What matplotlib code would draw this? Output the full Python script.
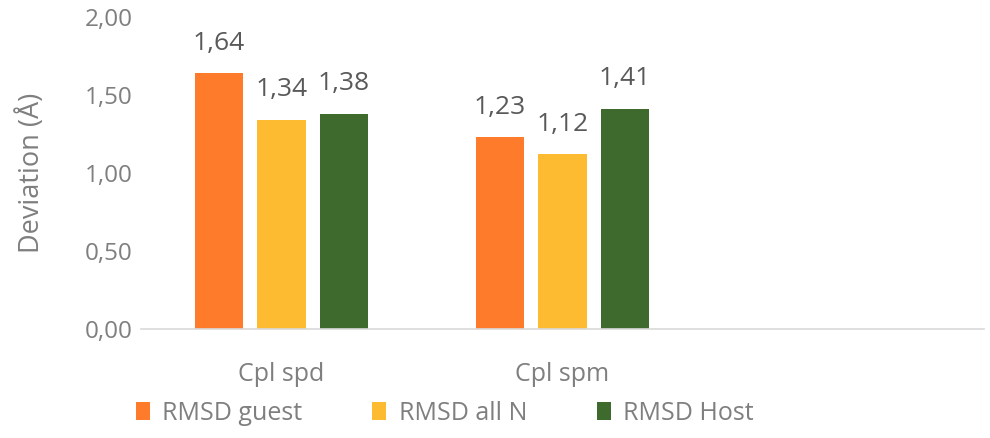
import matplotlib
matplotlib.use("Agg")
import matplotlib.pyplot as plt
from matplotlib.patches import Patch
import numpy as np

plt.rcParams['font.family'] = ['Open Sans', 'DejaVu Sans']

categories = ["Cpl spd", "Cpl spm", ""]
series_names = ["RMSD guest", "RMSD all N", "RMSD Host"]
rmsd_guest = [1.64, 1.23, np.nan]
rmsd_all_n = [1.34, 1.12, np.nan]
rmsd_host = [1.38, 1.41, np.nan]
yticks = [0.0, 0.5, 1.0, 1.5, 2.0]
colors = ["#FE7B2C", "#FDBB32", "#3E6A2E"]

fig = plt.figure(figsize=(9.9, 4.38), dpi=100)
ax = fig.add_axes([141/990, 1-329/438, 843/990, 312/438])

x = np.arange(len(categories))
width = 0.172
offsets = [-0.222, 0.0, 0.222]
for vals, off, c, name in zip([rmsd_guest, rmsd_all_n, rmsd_host], offsets, colors, series_names):
    ax.bar(x + off, vals, width=width, color=c, label=name)
    for xi, v in zip(x + off, vals):
        if not np.isnan(v):
            ax.annotate(f"{v:.2f}".replace(".", ","), (xi, v), xytext=(0, 17),
                        textcoords="offset points", ha="center", va="baseline",
                        fontsize=19, color="#595959")

ax.set_xlim(-0.5, 2.5)
ax.set_ylim(0, 2.0)
ax.set_yticks(yticks)
ax.set_yticklabels([f"{t:.2f}".replace(".", ",") for t in yticks], fontsize=17.5, color="#7f7f7f")
ax.set_xticks(x)
ax.set_xticklabels(categories, fontsize=18, color="#7f7f7f")
ax.tick_params(axis="both", length=0)
ax.tick_params(axis="x", pad=24)
ax.tick_params(axis="y", pad=6)
for s in ["top", "right", "left"]:
    ax.spines[s].set_visible(False)
ax.spines["bottom"].set_color("#d9d9d9")
ax.spines["bottom"].set_linewidth(1.2)
ax.set_ylabel("Deviation (Å)", fontsize=19.5, color="#7f7f7f", labelpad=28)

handles = [Patch(facecolor=c, edgecolor="none") for c in colors]
fig.legend(handles, series_names, loc="center", bbox_to_anchor=(445/990, 1-413/438),
           ncol=3, frameon=False, fontsize=18, handlelength=0.55, handleheight=0.75,
           handletextpad=0.5, columnspacing=2.8, labelcolor="#7f7f7f")

fig.savefig("out.png", dpi=100)
